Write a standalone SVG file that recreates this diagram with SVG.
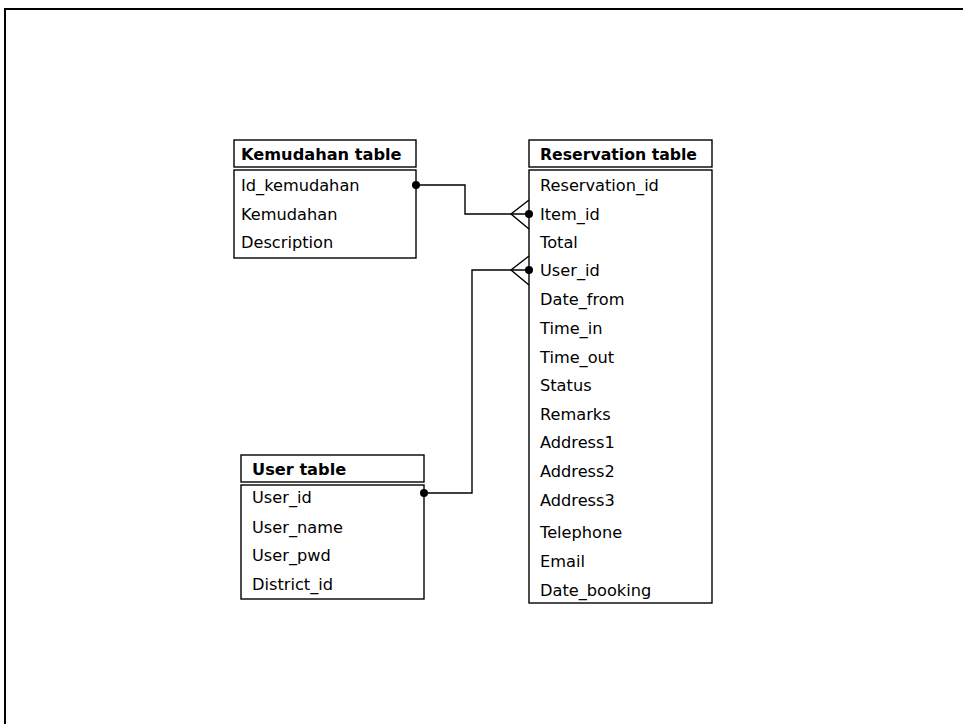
<svg xmlns="http://www.w3.org/2000/svg" width="963" height="724" viewBox="0 0 963 724">
<style>
.box{fill:#fff;stroke:#000;stroke-width:1.4}
.h{font-family:"DejaVu Sans",Verdana,sans-serif;font-size:16.2px;font-weight:bold;fill:#000}
.t{font-family:"DejaVu Sans",Verdana,sans-serif;font-size:16.2px;fill:#000}
.c{fill:none;stroke:#000;stroke-width:1.4}
</style>
<rect width="963" height="724" fill="#fff"/>
<path d="M5,724 V9 H963" fill="none" stroke="#000" stroke-width="2"/>
<g id="kemudahan">
<rect class="box" x="234" y="140" width="182" height="27"/>
<rect class="box" x="234" y="170" width="182" height="88"/>
<text class="h" x="241" y="160">Kemudahan table</text>
<text class="t" x="241" y="191">Id_kemudahan</text>
<text class="t" x="241" y="220">Kemudahan</text>
<text class="t" x="241" y="248">Description</text>
</g>
<g id="reservation">
<rect class="box" x="529" y="140" width="183" height="27"/>
<rect class="box" x="529" y="170" width="183" height="433"/>
<text class="h" x="540" y="160" textLength="157" lengthAdjust="spacingAndGlyphs">Reservation table</text>
<text class="t" x="540" y="191">Reservation_id</text>
<text class="t" x="540" y="220">Item_id</text>
<text class="t" x="540" y="248">Total</text>
<text class="t" x="540" y="276">User_id</text>
<text class="t" x="540" y="305">Date_from</text>
<text class="t" x="540" y="334">Time_in</text>
<text class="t" x="540" y="363">Time_out</text>
<text class="t" x="540" y="391">Status</text>
<text class="t" x="540" y="420">Remarks</text>
<text class="t" x="540" y="448">Address1</text>
<text class="t" x="540" y="477">Address2</text>
<text class="t" x="540" y="506">Address3</text>
<text class="t" x="540" y="538">Telephone</text>
<text class="t" x="540" y="567">Email</text>
<text class="t" x="540" y="596">Date_booking</text>
</g>
<g id="user">
<rect class="box" x="241" y="455" width="183" height="27"/>
<rect class="box" x="241" y="485" width="183" height="114"/>
<text class="h" x="252" y="475">User table</text>
<text class="t" x="252" y="503">User_id</text>
<text class="t" x="252" y="533">User_name</text>
<text class="t" x="252" y="561">User_pwd</text>
<text class="t" x="252" y="590">District_id</text>
</g>
<g id="connectors">
<path class="c" d="M416,185 H465 V214 H529"/>
<path class="c" d="M529,200 L511,214 L529,229"/>
<circle cx="416" cy="185" r="4"/>
<circle cx="529" cy="214" r="4"/>
<path class="c" d="M424,493 H472 V270 H529"/>
<path class="c" d="M529,256 L511,270 L529,285"/>
<circle cx="424" cy="493" r="4"/>
<circle cx="529" cy="270" r="4"/>
</g>
</svg>
